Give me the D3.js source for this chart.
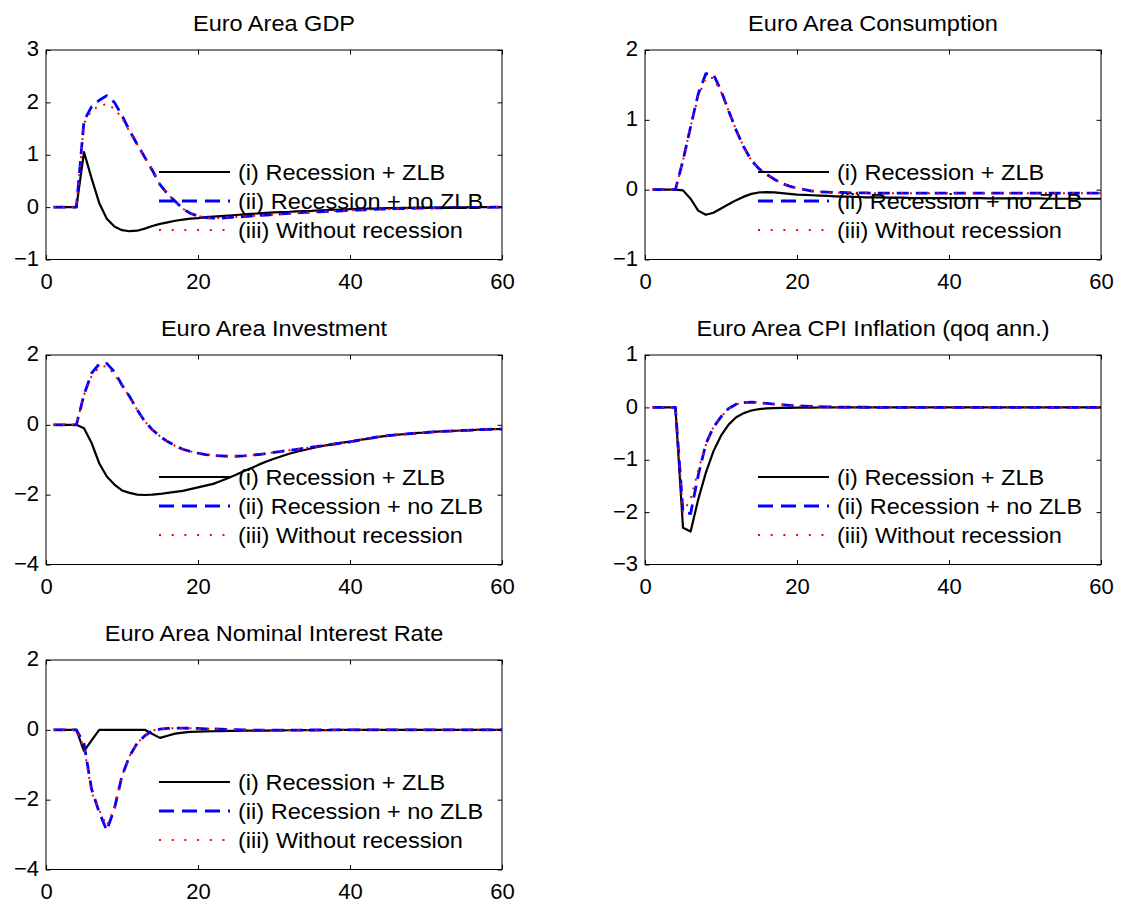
<!DOCTYPE html>
<html>
<head>
<meta charset="utf-8">
<script src="https://cdn.jsdelivr.net/npm/d3@7"></script>
<style>
  body { margin: 0; background: #fff; }
  text { font-family: "Liberation Sans", Arial, Helvetica, sans-serif; fill: #000; }
</style>
</head>
<body>
<div id="chart"></div>
<script>
// Periods (quarters) on the x axis
const periods = d3.range(1, 61);
const xTicks = [0, 20, 40, 60];
const legendLabels = ["(i) Recession + ZLB", "(ii) Recession + no ZLB", "(iii) Without recession"];

// Euro Area GDP
const gdpZlb = [0, 0, 0, 0, 1.05, 0.55, 0.08, -0.22, -0.37, -0.44, -0.46, -0.45, -0.41, -0.36, -0.32, -0.29, -0.26, -0.24, -0.22, -0.21,
  -0.19, -0.18, -0.17, -0.16, -0.15, -0.14, -0.13, -0.12, -0.11, -0.10, -0.095, -0.09, -0.08, -0.075, -0.07, -0.06, -0.055, -0.05, -0.045, -0.04,
  -0.035, -0.03, -0.03, -0.025, -0.02, -0.02, -0.015, -0.015, -0.01, -0.01, -0.01, -0.01, -0.005, -0.005, -0.005, 0, 0, 0, 0, 0];
const gdpNoZlb = [0, 0, 0, 0, 1.65, 1.92, 2.04, 2.13, 2.0, 1.75, 1.46, 1.2, 0.95, 0.7, 0.43, 0.25, 0.11, -0.03, -0.12, -0.17,
  -0.2, -0.21, -0.21, -0.2, -0.19, -0.18, -0.17, -0.16, -0.15, -0.14, -0.13, -0.12, -0.11, -0.1, -0.095, -0.09, -0.08, -0.075, -0.07, -0.06,
  -0.055, -0.05, -0.045, -0.04, -0.035, -0.03, -0.03, -0.025, -0.02, -0.02, -0.015, -0.015, -0.01, -0.01, -0.01, -0.005, -0.005, -0.005, 0, 0];
const gdpNoRec = [0, 0, 0, 0, 1.6, 1.85, 1.93, 1.97, 1.88, 1.7, 1.44, 1.2, 0.95, 0.7, 0.43, 0.25, 0.11, -0.03, -0.12, -0.17,
  -0.2, -0.21, -0.21, -0.2, -0.19, -0.18, -0.17, -0.16, -0.15, -0.14, -0.13, -0.12, -0.11, -0.1, -0.095, -0.09, -0.08, -0.075, -0.07, -0.06,
  -0.055, -0.05, -0.045, -0.04, -0.035, -0.03, -0.03, -0.025, -0.02, -0.02, -0.015, -0.015, -0.01, -0.01, -0.01, -0.005, -0.005, -0.005, 0, 0];

// Euro Area Consumption
const consZlb = [0, 0, 0, 0, -0.01, -0.13, -0.30, -0.36, -0.33, -0.27, -0.21, -0.15, -0.10, -0.06, -0.04, -0.035, -0.04, -0.05, -0.06, -0.07,
  -0.075, -0.08, -0.085, -0.09, -0.095, -0.10, -0.10, -0.105, -0.11, -0.11, -0.11, -0.115, -0.115, -0.115, -0.12, -0.12, -0.12, -0.12, -0.12, -0.12,
  -0.12, -0.12, -0.12, -0.12, -0.125, -0.125, -0.125, -0.125, -0.125, -0.125, -0.125, -0.125, -0.13, -0.13, -0.13, -0.13, -0.13, -0.13, -0.13, -0.13];
const consNoZlb = [0, 0, 0, 0, 0.42, 0.9, 1.37, 1.66, 1.65, 1.42, 1.13, 0.85, 0.61, 0.42, 0.3, 0.22, 0.15, 0.09, 0.05, 0.02,
  0.0, -0.02, -0.03, -0.035, -0.04, -0.04, -0.045, -0.045, -0.045, -0.05, -0.05, -0.05, -0.05, -0.05, -0.05, -0.05, -0.05, -0.05, -0.05, -0.05,
  -0.05, -0.05, -0.05, -0.05, -0.05, -0.05, -0.05, -0.05, -0.05, -0.05, -0.05, -0.05, -0.05, -0.05, -0.05, -0.05, -0.05, -0.05, -0.05, -0.05];
const consNoRec = [0, 0, 0, 0, 0.42, 0.9, 1.33, 1.6, 1.6, 1.4, 1.13, 0.85, 0.61, 0.42, 0.3, 0.22, 0.15, 0.09, 0.05, 0.02,
  0.0, -0.02, -0.03, -0.035, -0.04, -0.04, -0.045, -0.045, -0.045, -0.05, -0.05, -0.05, -0.05, -0.05, -0.05, -0.05, -0.05, -0.05, -0.05, -0.05,
  -0.05, -0.05, -0.05, -0.05, -0.05, -0.05, -0.05, -0.05, -0.05, -0.05, -0.05, -0.05, -0.05, -0.05, -0.05, -0.05, -0.05, -0.05, -0.05, -0.05];

// Euro Area Investment
const invZlb = [0, 0, 0, 0, -0.1, -0.52, -1.1, -1.48, -1.71, -1.88, -1.95, -2.0, -2.01, -2.0, -1.98, -1.95, -1.92, -1.89, -1.84, -1.79,
  -1.74, -1.69, -1.61, -1.52, -1.43, -1.33, -1.24, -1.14, -1.05, -0.97, -0.9, -0.83, -0.77, -0.72, -0.67, -0.62, -0.58, -0.54, -0.51, -0.48,
  -0.44, -0.41, -0.37, -0.34, -0.31, -0.29, -0.27, -0.25, -0.23, -0.22, -0.2, -0.19, -0.18, -0.17, -0.16, -0.15, -0.14, -0.13, -0.125, -0.12];
const invNoZlb = [0, 0, 0, 0, 0.86, 1.48, 1.74, 1.76, 1.52, 1.14, 0.81, 0.43, 0.1, -0.14, -0.33, -0.48, -0.6, -0.7, -0.76, -0.81,
  -0.85, -0.88, -0.89, -0.9, -0.9, -0.89, -0.87, -0.85, -0.82, -0.79, -0.76, -0.73, -0.7, -0.67, -0.64, -0.61, -0.58, -0.55, -0.52, -0.49,
  -0.45, -0.41, -0.37, -0.34, -0.31, -0.29, -0.27, -0.25, -0.23, -0.22, -0.2, -0.19, -0.18, -0.17, -0.16, -0.15, -0.14, -0.13, -0.125, -0.12];
const invNoRec = [0, 0, 0, 0, 0.86, 1.4, 1.65, 1.68, 1.45, 1.12, 0.81, 0.43, 0.1, -0.14, -0.33, -0.48, -0.6, -0.7, -0.76, -0.81,
  -0.85, -0.88, -0.89, -0.9, -0.9, -0.89, -0.87, -0.85, -0.82, -0.79, -0.76, -0.73, -0.7, -0.67, -0.64, -0.61, -0.58, -0.55, -0.52, -0.49,
  -0.45, -0.41, -0.37, -0.34, -0.31, -0.29, -0.27, -0.25, -0.23, -0.22, -0.2, -0.19, -0.18, -0.17, -0.16, -0.15, -0.14, -0.13, -0.125, -0.12];

// Euro Area CPI Inflation (qoq ann.)
const cpiZlb = [0, 0, 0, 0, -2.3, -2.37, -1.76, -1.25, -0.84, -0.54, -0.33, -0.19, -0.11, -0.06, -0.035, -0.02, -0.015, -0.01, -0.008, -0.005,
  -0.004, -0.003, -0.002, -0.002, -0.001, -0.001, 0, 0, 0, 0, 0, 0, 0, 0, 0, 0, 0, 0, 0, 0,
  0, 0, 0, 0, 0, 0, 0, 0, 0, 0, 0, 0, 0, 0, 0, 0, 0, 0, 0, 0];
const cpiNoZlb = [0, 0, 0, 0, -2.0, -2.03, -1.3, -0.7, -0.38, -0.18, -0.02, 0.06, 0.09, 0.1, 0.09, 0.075, 0.06, 0.05, 0.04, 0.03,
  0.025, 0.02, 0.015, 0.01, 0.008, 0.005, 0.004, 0.003, 0.002, 0.001, 0, 0, 0, 0, 0, 0, 0, 0, 0, 0,
  0, 0, 0, 0, 0, 0, 0, 0, 0, 0, 0, 0, 0, 0, 0, 0, 0, 0, 0, 0];
const cpiNoRec = [0, 0, 0, 0, -2.0, -1.75, -1.2, -0.72, -0.38, -0.18, -0.02, 0.06, 0.09, 0.1, 0.09, 0.075, 0.06, 0.05, 0.04, 0.03,
  0.025, 0.02, 0.015, 0.01, 0.008, 0.005, 0.004, 0.003, 0.002, 0.001, 0, 0, 0, 0, 0, 0, 0, 0, 0, 0,
  0, 0, 0, 0, 0, 0, 0, 0, 0, 0, 0, 0, 0, 0, 0, 0, 0, 0, 0, 0];

// Euro Area Nominal Interest Rate
const rateZlb = [0, 0, 0, 0, -0.61, -0.3, 0, 0, 0, 0, 0, 0, 0, -0.12, -0.23, -0.17, -0.11, -0.08, -0.06, -0.05,
  -0.045, -0.04, -0.035, -0.03, -0.03, -0.025, -0.02, -0.02, -0.02, -0.015, -0.015, -0.012, -0.01, -0.01, -0.01, -0.008, -0.006, -0.005, -0.004, -0.003,
  -0.002, -0.002, -0.001, -0.001, 0, 0, 0, 0, 0, 0, 0, 0, 0, 0, 0, 0, 0, 0, 0, 0];
const rateNoZlb = [0, 0, 0, 0, -0.4, -1.7, -2.36, -2.88, -2.26, -1.32, -0.75, -0.38, -0.17, -0.02, 0.02, 0.04, 0.05, 0.05, 0.045, 0.04,
  0.03, 0.025, 0.02, 0.01, 0.005, 0, -0.005, -0.01, -0.01, -0.01, -0.01, -0.01, -0.008, -0.006, -0.005, -0.004, -0.003, -0.002, -0.001, 0,
  0, 0, 0, 0, 0, 0, 0, 0, 0, 0, 0, 0, 0, 0, 0, 0, 0, 0, 0, 0];
const rateNoRec = [0, 0, 0, 0, -0.5, -1.8, -2.3, -2.75, -2.25, -1.32, -0.75, -0.38, -0.17, -0.02, 0.02, 0.04, 0.05, 0.05, 0.045, 0.04,
  0.03, 0.025, 0.02, 0.01, 0.005, 0, -0.005, -0.01, -0.01, -0.01, -0.01, -0.01, -0.008, -0.006, -0.005, -0.004, -0.003, -0.002, -0.001, 0,
  0, 0, 0, 0, 0, 0, 0, 0, 0, 0, 0, 0, 0, 0, 0, 0, 0, 0, 0, 0];

// Panel setup built from the arrays above
const panels = [
  { title: "Euro Area GDP", yDomain: [-1, 3], yTicks: [-1, 0, 1, 2, 3], series: [gdpZlb, gdpNoZlb, gdpNoRec], col: 0, row: 0 },
  { title: "Euro Area Consumption", yDomain: [-1, 2], yTicks: [-1, 0, 1, 2], series: [consZlb, consNoZlb, consNoRec], col: 1, row: 0 },
  { title: "Euro Area Investment", yDomain: [-4, 2], yTicks: [-4, -2, 0, 2], series: [invZlb, invNoZlb, invNoRec], col: 0, row: 1 },
  { title: "Euro Area CPI Inflation (qoq ann.)", yDomain: [-3, 1], yTicks: [-3, -2, -1, 0, 1], series: [cpiZlb, cpiNoZlb, cpiNoRec], col: 1, row: 1 },
  { title: "Euro Area Nominal Interest Rate", yDomain: [-4, 2], yTicks: [-4, -2, 0, 2], series: [rateZlb, rateNoZlb, rateNoRec], col: 0, row: 2 }
];

// Styles: (i) black solid, (ii) blue dashed, (iii) red dotted
const styles = [
  { color: "#000000", width: 2.2, dash: null, legendDash: null },
  { color: "#0000ff", width: 2.8, dash: "12,7", legendDash: "15,8" },
  { color: "#ff0000", width: 2, dash: "2,7", legendDash: "2,10.7" }
];

// Layout
const W = 1123, H = 905;
const plotW = 456, plotH = 209.5;
const lefts = [46, 645], tops = [50, 355, 660];
const fontSize = 22;
const stretch = 1.07; // the reference text is a little wider than Arial
const tickLen = 4.5;

const svg = d3.select("#chart")
  .append("svg")
  .attr("width", W)
  .attr("height", H)
  .style("background", "#fff");

panels.forEach(p => {
  const g = svg.append("g")
    .attr("transform", `translate(${lefts[p.col]},${tops[p.row]})`);

  const x = d3.scaleLinear().domain([0, 60]).range([0, plotW]);
  const y = d3.scaleLinear().domain(p.yDomain).range([plotH, 0]);

  // Title
  g.append("text")
    .attr("transform", `translate(${plotW / 2},-19) scale(${stretch},1)`)
    .attr("text-anchor", "middle")
    .style("font-size", fontSize + "px")
    .text(p.title);

  // Axes with inward ticks
  g.append("g")
    .attr("transform", `translate(0,${plotH})`)
    .call(d3.axisBottom(x).tickValues(xTicks).tickSizeInner(-tickLen).tickSizeOuter(0).tickPadding(13.4).tickFormat(d3.format("d")));
  const left = g.append("g")
    .call(d3.axisLeft(y).tickValues(p.yTicks).tickSizeInner(-tickLen).tickSizeOuter(0).tickPadding(7).tickFormat(d3.format("d")));
  g.append("g")
    .call(d3.axisTop(x).tickValues(xTicks).tickSizeInner(-tickLen).tickSizeOuter(0).tickFormat(""));
  g.append("g")
    .attr("transform", `translate(${plotW},0)`)
    .call(d3.axisRight(y).tickValues(p.yTicks).tickSizeInner(-tickLen).tickSizeOuter(0).tickFormat(""));

  g.selectAll(".domain").remove();
  g.selectAll(".tick line").attr("stroke", "#000").attr("stroke-width", 1);
  g.selectAll(".tick text")
    .style("font-size", fontSize + "px")
    .style("font-family", "'Liberation Sans', Arial, sans-serif")
    .attr("fill", "#000");
  left.selectAll(".tick text").attr("dy", "0.27em");

  // Box
  g.append("rect")
    .attr("width", plotW)
    .attr("height", plotH)
    .attr("fill", "none")
    .attr("stroke", "#000")
    .attr("stroke-width", 1);

  // Lines
  const line = d3.line()
    .x((d, i) => x(periods[i]))
    .y(d => y(d));

  p.series.forEach((s, k) => {
    g.append("path")
      .datum(s)
      .attr("fill", "none")
      .attr("stroke", styles[k].color)
      .attr("stroke-width", styles[k].width)
      .attr("stroke-dasharray", styles[k].dash)
      .attr("stroke-linejoin", "round")
      .attr("d", line);
  });

  // Legend (no box)
  const rows = [122, 151, 180];
  legendLabels.forEach((lab, k) => {
    g.append("line")
      .attr("x1", 113).attr("x2", 184)
      .attr("y1", rows[k]).attr("y2", rows[k])
      .attr("stroke", styles[k].color)
      .attr("stroke-width", styles[k].width)
      .attr("stroke-dasharray", styles[k].legendDash);
    g.append("text")
      .attr("transform", `translate(192,${rows[k]}) scale(${stretch},1)`)
      .attr("dy", "0.35em")
      .style("font-size", fontSize + "px")
      .text(lab);
  });
});
</script>
</body>
</html>
